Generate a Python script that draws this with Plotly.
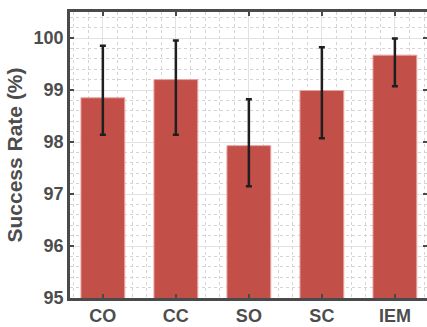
import plotly.graph_objects as go

categories = ["CO", "CC", "SO", "SC", "IEM"]
success_rate = [98.85, 99.20, 97.93, 98.99, 99.67]
err_upper = [99.85, 99.95, 98.82, 99.82, 99.99]
err_lower = [98.14, 98.14, 97.15, 98.07, 99.07]

x_pos = list(range(len(categories)))
plus = [u - v for u, v in zip(err_upper, success_rate)]
minus = [v - l for v, l in zip(success_rate, err_lower)]

font_family = "Liberation Sans, Arial, sans-serif"
txt_color = "#4d4d4d"
axis_color = "#4a4a4a"

fig = go.Figure()
fig.add_trace(go.Bar(
    x=x_pos, y=success_rate, width=0.6,
    marker=dict(color="#C24F48", line=dict(color="#E8A4A0", width=1)),
    error_y=dict(type="data", symmetric=False, array=plus, arrayminus=minus,
                 color="#1f1f1f", thickness=2.5, width=3),
    showlegend=False,
))
# invisible trace for mirrored top/right axes
fig.add_trace(go.Scatter(x=[0], y=[95], xaxis="x2", yaxis="y2", mode="markers",
                         marker=dict(opacity=0), showlegend=False, hoverinfo="skip"))

grid_major = "#e2e2e2"
grid_minor = "#d4d4d4"

fig.update_layout(
    width=427, height=327,
    margin=dict(l=70, r=0, t=12, b=29),
    paper_bgcolor="white", plot_bgcolor="white",
    font=dict(family=font_family, color=txt_color, size=18, weight="bold"),
    xaxis=dict(
        range=[-0.45, 4.44], tickvals=x_pos, ticktext=categories,
        showline=True, linecolor=axis_color, linewidth=2.5,
        ticks="inside", ticklen=4, tickcolor=axis_color, tickwidth=2,
        showgrid=True, gridcolor=grid_major, gridwidth=1,
        zeroline=False,
        tickfont=dict(family=font_family, size=18, color=txt_color, weight="bold"),
        minor=dict(tick0=0, dtick=0.2, showgrid=True, gridcolor=grid_minor,
                   griddash="dot", gridwidth=1),
    ),
    yaxis=dict(
        range=[95, 100.5], tickvals=[95, 96, 97, 98, 99, 100],
        showline=True, linecolor=axis_color, linewidth=2.5,
        ticks="inside", ticklen=4, tickcolor=axis_color, tickwidth=2,
        showgrid=True, gridcolor=grid_major, gridwidth=1,
        zeroline=False,
        tickfont=dict(family=font_family, size=18, color=txt_color, weight="bold"),
        title=dict(text="Success Rate (%)", standoff=6,
                   font=dict(family=font_family, size=21, color=txt_color, weight="bold")),
        minor=dict(tick0=95, dtick=0.2, showgrid=True, gridcolor=grid_minor,
                   griddash="dot", gridwidth=1),
    ),
    xaxis2=dict(
        overlaying="x", side="top", anchor="y", range=[-0.45, 4.44],
        tickvals=x_pos, showticklabels=False, showgrid=False, zeroline=False,
        showline=True, linecolor=axis_color, linewidth=2.5,
        ticks="inside", ticklen=4, tickcolor=axis_color, tickwidth=2,
    ),
    yaxis2=dict(
        overlaying="y", side="right", anchor="x", range=[95, 100.5],
        tickvals=[95, 96, 97, 98, 99, 100], showticklabels=False,
        showgrid=False, zeroline=False, showline=False,
        ticks="inside", ticklen=4, tickcolor=axis_color, tickwidth=2,
    ),
)

fig.write_html("out.html")
